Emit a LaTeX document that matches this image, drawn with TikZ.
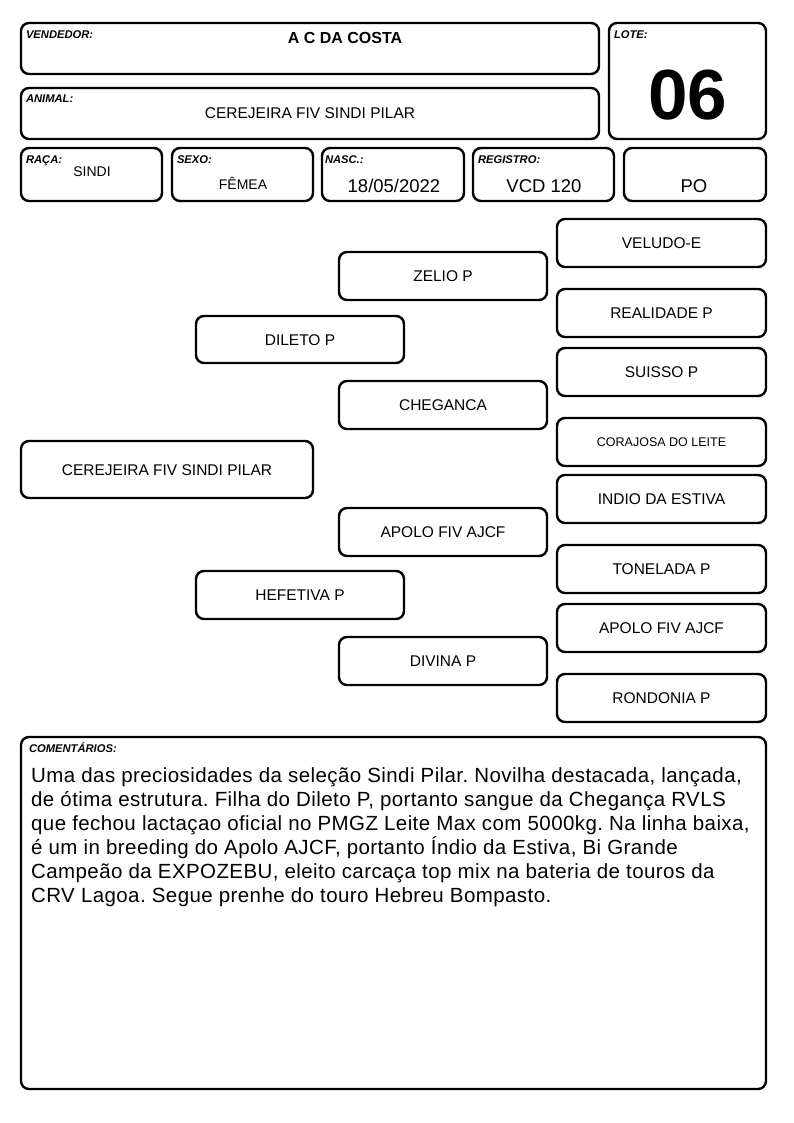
\documentclass[tikz,border=0pt]{standalone}
\usepackage{fontspec}
\setmainfont{Liberation Sans}
\frenchspacing
\begin{document}
\begin{tikzpicture}[x=1pt,y=-1pt,
  box/.style={draw, line width=2.4pt, rounded corners=8pt, inner sep=0pt},
  lbl/.style={anchor=north west, inner sep=0pt, font=\fontsize{11.2}{12}\selectfont\bfseries\itshape},
  val/.style={anchor=base, inner sep=0pt},
  ped/.style={box, minimum height=48pt, text height=11.1pt, text depth=0pt, font=\fontsize{15.5}{16}\selectfont},
  com/.style={anchor=base west, inner sep=0pt, font=\fontsize{20.5}{24}\selectfont\addfontfeatures{LetterSpace=2.0}}]
\useasboundingbox (0,0) rectangle (794,1123);
% header
\node[box, minimum width=578pt, minimum height=51pt] (vend) at (310,48.5) {};
\node[lbl] (vendl) at ([shift={(6,9)}]vend.north west) {VENDEDOR:};
\node[val, font=\fontsize{16}{17}\selectfont\bfseries] (vendv) at (345,43.7) {A C DA COSTA};
\node[box, minimum width=578pt, minimum height=51pt] (anim) at (310,113.5) {};
\node[lbl] (animl) at ([shift={(6,8)}]anim.north west) {ANIMAL:};
\node[val, font=\fontsize{15.5}{16}\selectfont] (animv) at (310,118.5) {CEREJEIRA FIV SINDI PILAR};
\node[box, minimum width=157pt, minimum height=116pt] (lote) at (687.5,81) {};
\node[lbl] (lotel) at ([shift={(6,9)}]lote.north west) {LOTE:};
\node[val, font=\fontsize{71}{72}\selectfont\bfseries] (lotev) at (687.5,120) {06};
% row 3
\node[box, minimum width=141pt, minimum height=53pt] (raca) at (91.5,174.5) {};
\node[lbl] (racal) at ([shift={(6,8.5)}]raca.north west) {RAÇA:};
\node[val, font=\fontsize{14}{15}\selectfont] (racav) at (92,177) {SINDI};
\node[box, minimum width=141pt, minimum height=53pt] (sexo) at (242.5,174.5) {};
\node[lbl] (sexol) at ([shift={(6,9)}]sexo.north west) {SEXO:};
\node[val, font=\fontsize{14}{15}\selectfont] (sexov) at (243,189.5) {FÊMEA};
\node[box, minimum width=142pt, minimum height=53pt] (nasc) at (393,174.5) {};
\node[lbl] (nascl) at ([shift={(4,9)}]nasc.north west) {NASC.:};
\node[val, font=\fontsize{18.5}{19}\selectfont] (nascv) at (394,192.5) {18/05/2022};
\node[box, minimum width=141pt, minimum height=53pt] (reg) at (543.5,174.5) {};
\node[lbl] (regl) at ([shift={(6,9)}]reg.north west) {REGISTRO:};
\node[val, font=\fontsize{18.5}{19}\selectfont] (regv) at (544,192.5) {VCD 120};
\node[box, minimum width=142pt, minimum height=53pt] (po) at (695,174.5) {};
\node[val, font=\fontsize{18.5}{19}\selectfont] (pov) at (694,192.5) {PO};
% pedigree
\node[ped, minimum width=292pt, minimum height=57pt] (cer) at (167,469.5) {CEREJEIRA FIV SINDI PILAR};
\node[ped, minimum width=208pt, minimum height=47pt] (dil) at (300,339.5) {DILETO P};
\node[ped, minimum width=208pt] (hef) at (300,595) {HEFETIVA P};
\node[ped, minimum width=208pt] (zel) at (443,276) {ZELIO P};
\node[ped, minimum width=208pt] (che) at (443,405) {CHEGANCA};
\node[ped, minimum width=208pt] (apo) at (443,532) {APOLO FIV AJCF};
\node[ped, minimum width=208pt] (div) at (443,661) {DIVINA P};
\node[ped, minimum width=209pt] (vel) at (661.5,243) {VELUDO-E};
\node[ped, minimum width=209pt] (rea) at (661.5,313) {REALIDADE P};
\node[ped, minimum width=209pt] (sui) at (661.5,372) {SUISSO P};
\node[ped, minimum width=209pt, font=\fontsize{12.5}{13}\selectfont, text height=9pt] (cor) at (661.5,442) {CORAJOSA DO LEITE};
\node[ped, minimum width=209pt] (ind) at (661.5,499) {INDIO DA ESTIVA};
\node[ped, minimum width=209pt] (ton) at (661.5,569) {TONELADA P};
\node[ped, minimum width=209pt] (apo2) at (661.5,628) {APOLO FIV AJCF};
\node[ped, minimum width=209pt] (ron) at (661.5,698) {RONDONIA P};
% comments
\node[box, minimum width=745pt, minimum height=352pt] (coment) at (393.5,913) {};
\node[lbl] (comentl) at ([shift={(9,6.5)}]coment.north west) {COMENTÁRIOS:};
\node[com] (c1) at (31,782) {Uma das preciosidades da seleção Sindi Pilar. Novilha destacada, lançada,};
\node[com] (c2) at (31,806) {de ótima estrutura. Filha do Dileto P, portanto sangue da Chegança RVLS};
\node[com] (c3) at (31,830) {que fechou lactaçao oficial no PMGZ Leite Max com 5000kg. Na linha baixa,};
\node[com] (c4) at (31,854) {é um in breeding do Apolo AJCF, portanto Índio da Estiva, Bi Grande};
\node[com] (c5) at (31,878) {Campeão da EXPOZEBU, eleito carcaça top mix na bateria de touros da};
\node[com] (c6) at (31,902) {CRV Lagoa. Segue prenhe do touro Hebreu Bompasto.};
\end{tikzpicture}
\end{document}
